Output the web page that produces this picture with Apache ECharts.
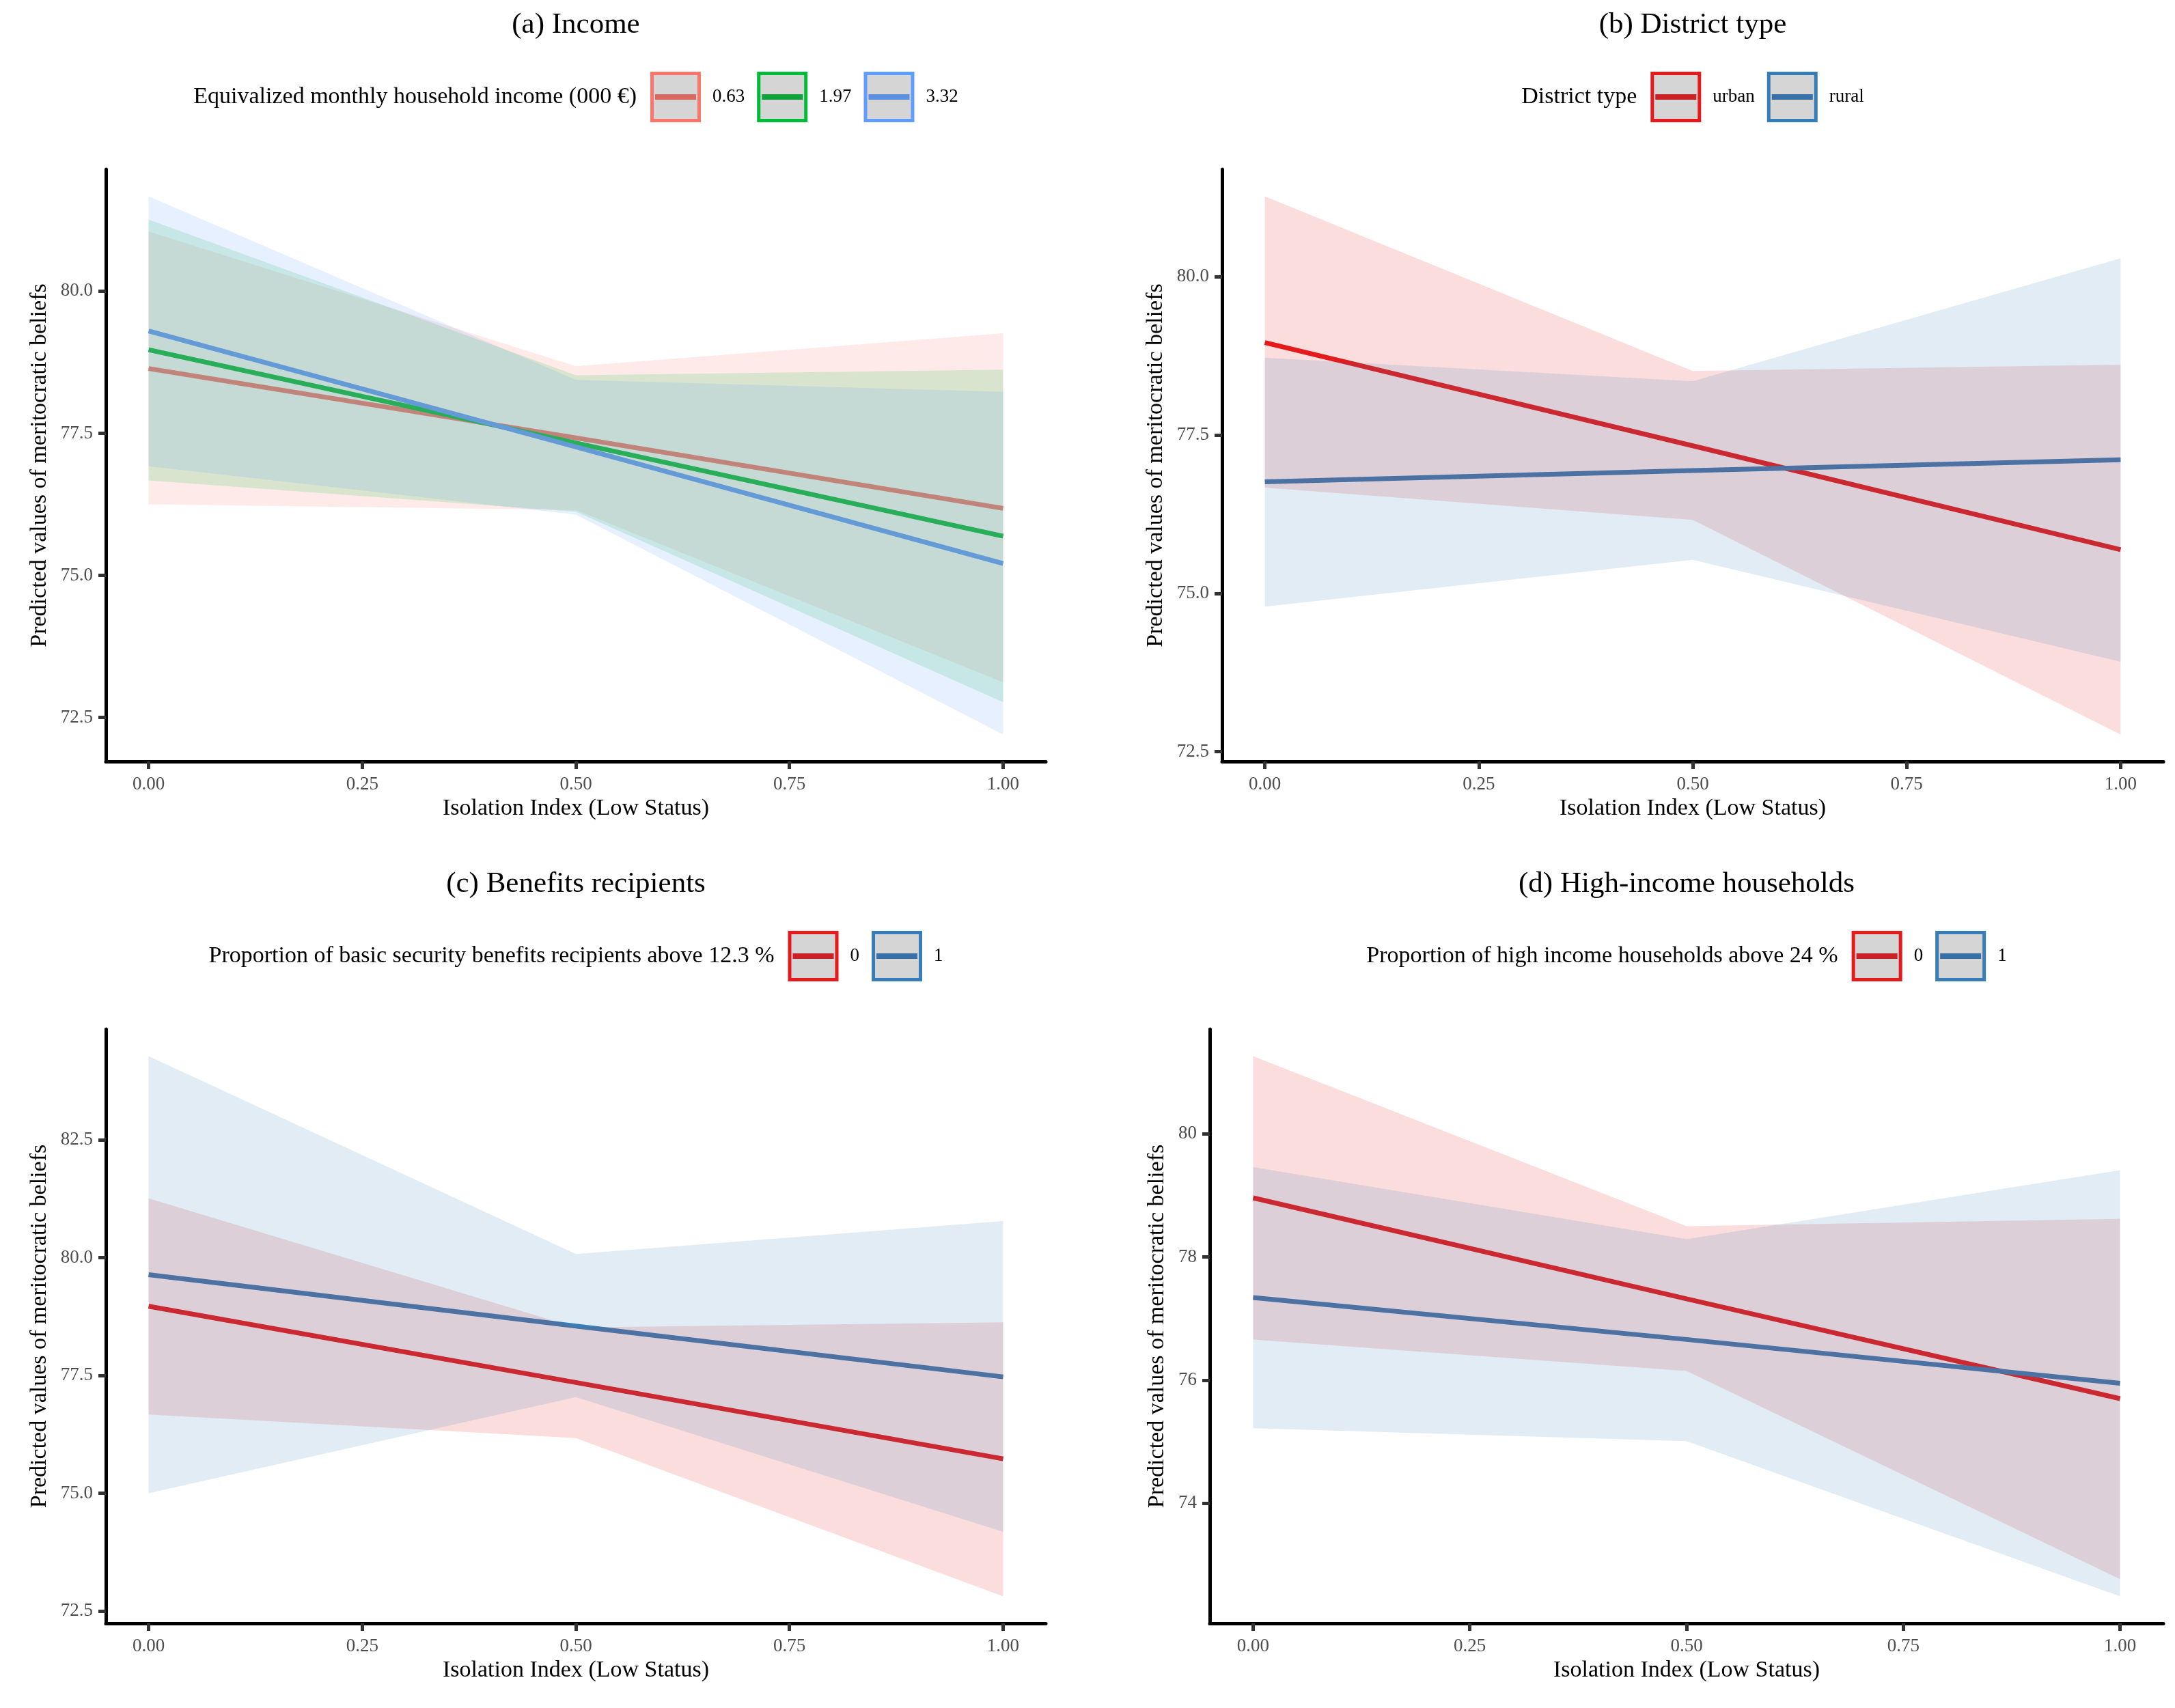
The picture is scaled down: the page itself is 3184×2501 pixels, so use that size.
<!DOCTYPE html>
<html>
<head>
<meta charset="utf-8">
<script src="https://cdn.jsdelivr.net/npm/echarts@6/dist/echarts.min.js"></script>
<style>
html,body{margin:0;padding:0;background:#fff;}
#chart{width:3184px;height:2501px;}
</style>
</head>
<body>
<div id="chart"></div>
<script>
// ---------------- DATA ----------------
const isolation = [0, 0.5, 1];
const xTicks = [0, 0.25, 0.5, 0.75, 1];

// (a) Income
const incomeLevels = ['0.63', '1.97', '3.32'];
const incPred063 = [78.64, 77.42, 76.18];
const incLow063  = [76.25, 76.15, 73.12];
const incHigh063 = [81.05, 78.68, 79.26];
const incPred197 = [78.97, 77.33, 75.69];
const incLow197  = [76.67, 76.12, 72.77];
const incHigh197 = [81.26, 78.52, 78.62];
const incPred332 = [79.30, 77.26, 75.21];
const incLow332  = [76.92, 76.07, 72.20];
const incHigh332 = [81.67, 78.44, 78.23];
const yTicksA = [72.5, 75, 77.5, 80];

// (b) District type
const districtLevels = ['urban', 'rural'];
const urbPred = [78.96, 77.33, 75.69];
const urbLow  = [76.67, 76.16, 72.77];
const urbHigh = [81.27, 78.51, 78.61];
const rurPred = [76.76, 76.94, 77.11];
const rurLow  = [74.79, 75.53, 73.92];
const rurHigh = [78.72, 78.35, 80.29];
const yTicksB = [72.5, 75, 77.5, 80];

// (c) Benefits recipients
const benefitLevels = ['0', '1'];
const benPred0 = [78.97, 77.35, 75.73];
const benLow0  = [76.67, 76.17, 72.81];
const benHigh0 = [81.26, 78.52, 78.63];
const benPred1 = [79.64, 78.55, 77.47];
const benLow1  = [75.00, 77.04, 74.18];
const benHigh1 = [84.28, 80.08, 80.78];
const yTicksC = [72.5, 75, 77.5, 80, 82.5];

// (d) High-income households
const highLevels = ['0', '1'];
const hiPred0 = [78.96, 77.32, 75.70];
const hiLow0  = [76.66, 76.15, 72.77];
const hiHigh0 = [81.26, 78.50, 78.62];
const hiPred1 = [77.34, 76.66, 75.95];
const hiLow1  = [75.22, 75.01, 72.49];
const hiHigh1 = [79.46, 78.29, 79.41];
const yTicksD = [74, 76, 78, 80];

const panelTitles = ['(a) Income', '(b) District type', '(c) Benefits recipients', '(d) High-income households'];
const legendTitles = ['Equivalized monthly household income (000 €)', 'District type',
  'Proportion of basic security benefits recipients above 12.3 %', 'Proportion of high income households above 24 %'];
const xAxisTitle = 'Isolation Index (Low Status)';
const yAxisTitle = 'Predicted values of meritocratic beliefs';

// ---------------- STYLE / LAYOUT ----------------
const FONT = '"Liberation Serif", "Times New Roman", serif';
const hue3 = ['#F8766D', '#00BA38', '#619CFF'];
const hue3Key = ['#D9695F', '#0DA33A', '#5B8FDF'];
const set1 = ['#E41A1C', '#377EB8'];
const set1Key = ['#CC2027', '#3670A6'];

const panels = [
  { grid: {left: 155, top: 248, width: 1376, height: 867}, titleY: 37, legendY: 142, yTicks: yTicksA, yDec: 1, nameGap: 80,
    levels: incomeLevels, colors: hue3, keyColors: hue3Key,
    groups: [[incPred063, incLow063, incHigh063], [incPred197, incLow197, incHigh197], [incPred332, incLow332, incHigh332]] },
  { grid: {left: 1789, top: 248, width: 1378, height: 867}, titleY: 37, legendY: 142, yTicks: yTicksB, yDec: 1, nameGap: 80,
    levels: districtLevels, colors: set1, keyColors: set1Key,
    groups: [[urbPred, urbLow, urbHigh], [rurPred, rurLow, rurHigh]] },
  { grid: {left: 155, top: 1507, width: 1376, height: 870}, titleY: 1295, legendY: 1400, yTicks: yTicksC, yDec: 1, nameGap: 80,
    levels: benefitLevels, colors: set1, keyColors: set1Key,
    groups: [[benPred0, benLow0, benHigh0], [benPred1, benLow1, benHigh1]] },
  { grid: {left: 1771, top: 1507, width: 1396, height: 870}, titleY: 1295, legendY: 1400, yTicks: yTicksD, yDec: 0, nameGap: 60,
    levels: highLevels, colors: set1, keyColors: set1Key,
    groups: [[hiPred0, hiLow0, hiHigh0], [hiPred1, hiLow1, hiHigh1]] }
];

const ctx = document.createElement('canvas').getContext('2d');
function textWidth(t, size) { ctx.font = size + 'px ' + FONT; return ctx.measureText(t).width; }

function hexToRgba(hex, a) {
  const n = parseInt(hex.slice(1), 16);
  return 'rgba(' + ((n >> 16) & 255) + ',' + ((n >> 8) & 255) + ',' + (n & 255) + ',' + a + ')';
}

const grids = [], xAxes = [], yAxes = [], series = [], graphics = [];

panels.forEach((p, pi) => {
  grids.push(Object.assign({containLabel: false}, p.grid));
  // ggplot-style expansion of the y range
  let lo = Infinity, hi = -Infinity;
  p.groups.forEach(g => { lo = Math.min(lo, ...g[1]); hi = Math.max(hi, ...g[2]); });
  const span = hi - lo;
  const yMin = lo - 0.05 * span, yMax = hi + 0.05 * span;

  xAxes.push({
    type: 'value', gridIndex: pi, min: -0.05, max: 1.05,
    name: xAxisTitle, nameLocation: 'middle', nameGap: 52,
    nameTextStyle: {fontFamily: FONT, fontSize: 34, color: '#000'},
    axisLine: {show: true, onZero: false, lineStyle: {color: '#000', width: 5}},
    axisTick: {show: true, length: 11, customValues: xTicks, lineStyle: {color: '#333', width: 5}},
    axisLabel: {show: true, customValues: xTicks, margin: 20, color: '#4d4d4d', fontFamily: FONT, fontSize: 27,
      formatter: v => v.toFixed(2)},
    splitLine: {show: false}
  });
  yAxes.push({
    type: 'value', gridIndex: pi, min: yMin, max: yMax,
    name: yAxisTitle, nameLocation: 'middle', nameGap: p.nameGap, nameRotate: 90,
    nameTextStyle: {fontFamily: FONT, fontSize: 34, color: '#000'},
    axisLine: {show: true, onZero: false, lineStyle: {color: '#000', width: 5}},
    axisTick: {show: true, length: 11, customValues: p.yTicks, lineStyle: {color: '#333', width: 5}},
    axisLabel: {show: true, customValues: p.yTicks, margin: 19, color: '#4d4d4d', fontFamily: FONT, fontSize: 27,
      formatter: v => v.toFixed(p.yDec)},
    splitLine: {show: false}
  });

  // lines first (beneath ribbons, as in the reference)
  p.groups.forEach((g, gi) => {
    series.push({
      type: 'line', xAxisIndex: pi, yAxisIndex: pi, z: 2,
      data: isolation.map((x, i) => [x, g[0][i]]),
      symbol: 'none', silent: true, animation: false,
      lineStyle: {color: p.colors[gi], width: 7}
    });
  });
  // ribbons on top with alpha
  p.groups.forEach((g, gi) => {
    const low = g[1], high = g[2];
    series.push({
      type: 'custom', xAxisIndex: pi, yAxisIndex: pi, z: 3, silent: true, animation: false,
      data: isolation.map((x, i) => [x, low[i], high[i]]),
      encode: {x: 0, y: [1, 2]},
      renderItem: (params, api) => {
        if (params.dataIndex !== 0) return null;
        const pts = [];
        for (let i = 0; i < isolation.length; i++) pts.push(api.coord([isolation[i], high[i]]));
        for (let i = isolation.length - 1; i >= 0; i--) pts.push(api.coord([isolation[i], low[i]]));
        return {type: 'polygon', shape: {points: pts}, style: {fill: hexToRgba(p.colors[gi], 0.15), stroke: null}};
      }
    });
  });

  // panel title
  const cx = p.grid.left + p.grid.width / 2;
  graphics.push({type: 'text', x: cx, y: p.titleY,
    style: {text: panelTitles[pi], font: '43px ' + FONT, fill: '#000',
      textAlign: 'center', textVerticalAlign: 'middle', align: 'center', verticalAlign: 'middle'}});

  // legend
  const box = 74, gapTitle = 20, gapLabel = 17, gapItem = 18;
  const tW = textWidth(legendTitles[pi], 34);
  const lW = p.levels.map(l => textWidth(l, 27));
  let total = tW + gapTitle;
  lW.forEach((w, i) => { total += box + gapLabel + w + (i < lW.length - 1 ? gapItem : 0); });
  let x = cx - total / 2;
  const cy = p.legendY;
  graphics.push({type: 'text', x: x, y: cy,
    style: {text: legendTitles[pi], font: '34px ' + FONT, fill: '#000',
      textAlign: 'left', textVerticalAlign: 'middle', align: 'left', verticalAlign: 'middle'}});
  x += tW + gapTitle;
  p.levels.forEach((lab, i) => {
    graphics.push({type: 'rect', shape: {x: x + 2.5, y: cy - box / 2 + 2.5, width: box - 5, height: box - 5},
      style: {fill: '#d5d5d5', stroke: p.colors[i], lineWidth: 5}});
    graphics.push({type: 'line', shape: {x1: x + 7, y1: cy, x2: x + box - 7, y2: cy},
      style: {stroke: p.keyColors[i], lineWidth: 8}});
    x += box + gapLabel;
    graphics.push({type: 'text', x: x, y: cy,
      style: {text: lab, font: '27px ' + FONT, fill: '#000',
        textAlign: 'left', textVerticalAlign: 'middle', align: 'left', verticalAlign: 'middle'}});
    x += lW[i] + gapItem;
  });
});

const chart = echarts.init(document.getElementById('chart'), null, {renderer: 'canvas'});
chart.setOption({
  backgroundColor: '#fff',
  animation: false,
  grid: grids,
  xAxis: xAxes,
  yAxis: yAxes,
  series: series,
  graphic: graphics
});
</script>
</body>
</html>
